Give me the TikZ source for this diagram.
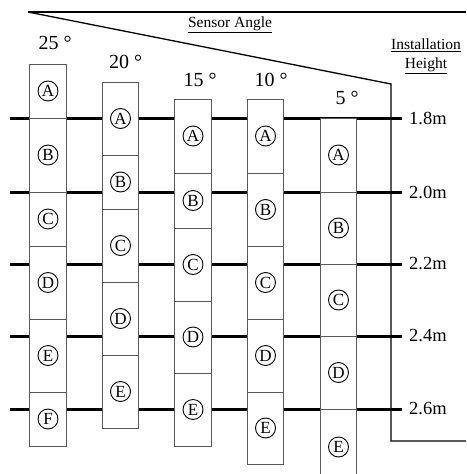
\documentclass[tikz,border=0pt]{standalone}
\usepackage{fontspec}
\setmainfont{Liberation Serif}
\usetikzlibrary{positioning}

\begin{document}
\begin{tikzpicture}[
  x=1pt, y=-1pt,
  every node/.style={inner sep=0pt},
  cellbox/.style={rectangle,draw=black!65,line width=0.8pt,fill=white,
                  minimum width=36.5pt},
  letter/.style={circle,draw=black,line width=0.9pt,minimum size=20pt,
                 font=\fontsize{17}{17}\selectfont},
  level/.style={line width=3pt},
  frame/.style={line width=1.3pt},
  degree/.style={font=\fontsize{20}{20}\selectfont},
  height/.style={anchor=west,font=\fontsize{18.5}{18.5}\selectfont},
  caption/.style={font=\fontsize{15.5}{17}\selectfont,align=center}
]
\clip (0,0) rectangle (466,474);

% installation heights
\foreach \i/\y/\h in {1/118/1.8m, 2/192/2.0m, 3/264/2.2m, 4/336/2.4m, 5/409/2.6m}{
  \coordinate (lv\i) at (10,\y);
  \coordinate (le\i) at (402,\y);
  \node[height] (h\i) at (409,\y) {\h};
  \draw[level] (lv\i) -- (le\i);
}

% frame
\coordinate (f0) at (28,12);
\coordinate (f1) at (466,12);
\coordinate (f2) at (391,84);
\coordinate (f3) at (391,441);
\coordinate (f4) at (466,441);
\draw[frame] (f0) -- (f1);
\draw[frame] (f0) -- (f2) -- (f3) -- (f4);

\node[caption] (angle) at (230,25) {\underline{Sensor Angle}};
\node[caption] (inst) at (426,56) {\underline{Installation}\\[2pt]\underline{Height}};

% sensor angles
\node[degree] (d25) at (55,43)    {25 °};
\node[degree] (d20) at (125.5,62) {20 °};
\node[degree] (d15) at (200,80)   {15 °};
\node[degree] (d10) at (271,80)   {10 °};
\node[degree] (d5)  at (347,98)   {5 °};

% detection zones per column
\foreach \c/\x/\cells in {
  1/48/{A/64/118, B/118/192, C/192/246, D/246/319, E/319/392, F/392/446},
  2/120.5/{A/82/155, B/155/209, C/209/282, D/282/355, E/355/428},
  3/193/{A/99/173, B/173/228, C/228/301, D/301/373, E/373/446},
  4/265.5/{A/99/173, B/173/246, C/246/319, D/319/392, E/392/464},
  5/338.5/{A/118/192, B/192/264, C/264/336, D/336/409, E/409/485}}{
  \foreach \l/\t/\b in \cells{
    \node[cellbox,minimum height={(\b-\t)*1pt}] (c\c\l) at (\x,{(\t+\b)/2}) {};
    \node[letter] (z\c\l) at (c\c\l.center) {\l};
  }
}
\end{tikzpicture}
\end{document}
